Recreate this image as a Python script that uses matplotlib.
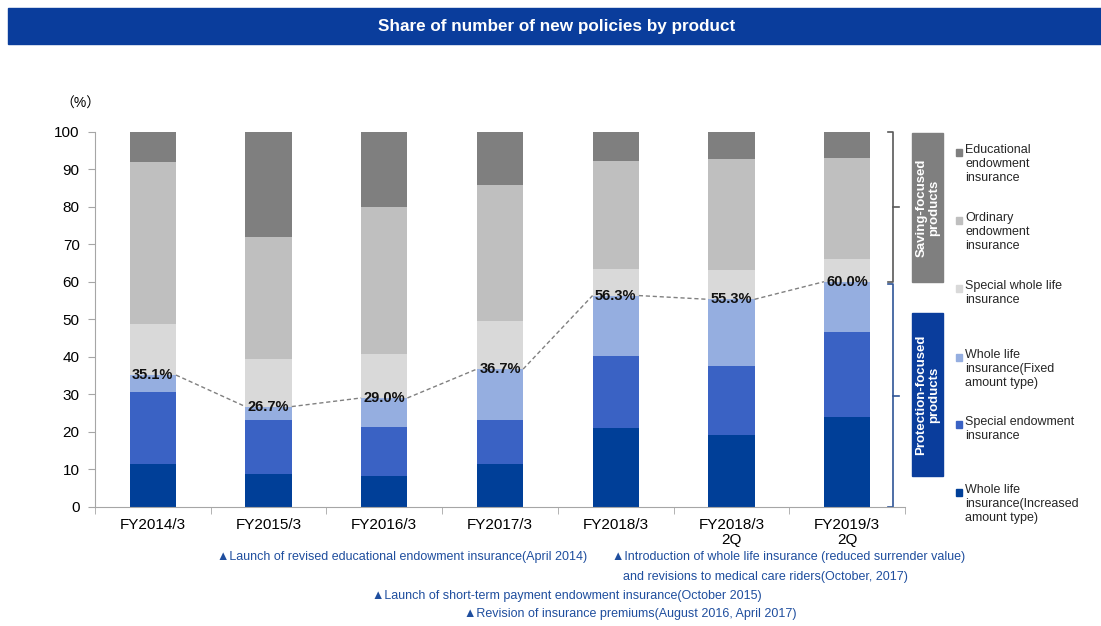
import numpy as np
import matplotlib
matplotlib.use("Agg")
import matplotlib.pyplot as plt
from matplotlib.patches import Rectangle
from matplotlib.transforms import blended_transform_factory

plt.rcParams['font.family'] = ['Liberation Sans', 'Noto Sans CJK JP', 'DejaVu Sans']

# =======================
# DATA (share of new policies, %)
# =======================
categories = ["FY2014/3", "FY2015/3", "FY2016/3", "FY2017/3", "FY2018/3",
              "FY2018/3\n2Q", "FY2019/3\n2Q"]

# stacked from the bottom up
whole_life_increased = [11.4, 8.7, 8.3, 11.4, 20.9, 19.1, 23.9]
special_endowment = [19.3, 14.4, 12.9, 11.7, 19.3, 18.4, 22.6]
whole_life_fixed = [4.4, 3.6, 7.8, 13.6, 16.1, 17.8, 13.5]
special_whole_life = [13.6, 12.6, 11.6, 12.9, 7.1, 7.8, 6.0]
ordinary_endowment = [43.3, 32.7, 39.4, 36.2, 28.8, 29.6, 26.9]
educational_endowment = [8.0, 28.0, 20.0, 14.2, 7.8, 7.3, 6.9]

series_names = [
    "Whole life\ninsurance(Increased\namount type)",
    "Special endowment\ninsurance",
    "Whole life\ninsurance(Fixed\namount type)",
    "Special whole life\ninsurance",
    "Ordinary\nendowment\ninsurance",
    "Educational\nendowment\ninsurance",
]
series_values = [whole_life_increased, special_endowment, whole_life_fixed,
                 special_whole_life, ordinary_endowment, educational_endowment]
series_colors = ["#003f98", "#3a62c4", "#95aee0", "#d9d9d9", "#bfbfbf", "#7f7f7f"]

footnotes = [
    "\u25b2Launch of revised educational endowment insurance(April 2014)",
    "\u25b2Introduction of whole life insurance (reduced surrender value)",
    "and revisions to medical care riders(October, 2017)",
    "\u25b2Launch of short-term payment endowment insurance(October 2015)",
    "\u25b2Revision of insurance premiums(August 2016, April 2017)",
]

# =======================
# FIGURE
# =======================
W, H = 1101, 626
fig = plt.figure(figsize=(W / 100, H / 100), dpi=100)


def fx(px):
    return px / W


def fy(py):
    return 1 - py / H


ax = fig.add_axes([fx(95), fy(506.7), 810 / W, 375 / H])

x = np.arange(len(categories))
bar_w = 0.4
bottom = np.zeros(len(categories))
for vals, col in zip(series_values, series_colors):
    ax.bar(x, vals, bar_w, bottom=bottom, color=col, zorder=2)
    bottom += np.array(vals)

# protection-focused share = first three series
protection = np.array(whole_life_increased) + np.array(special_endowment) + np.array(whole_life_fixed)
for i in range(len(x) - 1):
    ax.plot([x[i] + bar_w / 2, x[i + 1] - bar_w / 2], [protection[i], protection[i + 1]],
            ls=(0, (3, 2)), color="#808080", lw=1, zorder=3)
for xi, p in zip(x, protection):
    ax.text(xi, p, f"{p:.1f}%", ha="center", va="center", fontsize=10.5,
            fontweight="bold", color="#111111", zorder=4)

ax.set_xlim(-0.5, len(categories) - 0.5)
ax.set_ylim(0, 100)
ax.set_yticks(range(0, 101, 10))
ax.set_xticks(x)
ax.set_xticklabels(categories, fontsize=11, linespacing=1.15)
ax.set_xticks(np.arange(-0.5, len(categories)), minor=True)
ax.tick_params(axis="x", which="major", length=0, pad=8)
ax.tick_params(axis="x", which="minor", length=5, color="#a6a6a6")
ax.tick_params(axis="y", length=5, color="#a6a6a6", labelsize=11, pad=6)
for s in ["top", "right"]:
    ax.spines[s].set_visible(False)
for s in ["left", "bottom"]:
    ax.spines[s].set_color("#a6a6a6")
ax.text(fx(60), fy(104), "\uff08%\uff09", transform=fig.transFigure, fontsize=10,
        ha="left", va="center")

# braces on the right side
tr = blended_transform_factory(ax.transAxes, ax.transData)
bx = (893 - 95) / 810
hook = 5 / 810
for y0, y1, col in [(60, 100, "#595959"), (0, 59.3, "#2f5597")]:
    ym = (y0 + y1) / 2
    ax.plot([bx - hook, bx, bx, bx - hook], [y1, y1, y0, y0], color=col, lw=1.2,
            transform=tr, clip_on=False)
    ax.plot([bx, bx + 1.2 * hook], [ym, ym], color=col, lw=1.2, transform=tr, clip_on=False)

# group boxes
fig.add_artist(Rectangle((fx(912), fy(282)), fx(31), 149 / H, color="#7f7f7f",
                         transform=fig.transFigure))
fig.text(fx(927.5), fy(207.5), "Saving-focused\nproducts", rotation=90, color="white",
         fontsize=9.5, fontweight="bold", ha="center", va="center", linespacing=1.05)
fig.add_artist(Rectangle((fx(912), fy(476)), fx(31), 163 / H, color="#0a3d9c",
                         transform=fig.transFigure))
fig.text(fx(927.5), fy(394.5), "Protection-focused\nproducts", rotation=90, color="white",
         fontsize=9.5, fontweight="bold", ha="center", va="center", linespacing=1.05)

# legend, top entry first
legend_y = [152, 220, 288, 357, 424, 492]
for py, name, col in zip(legend_y, series_names[::-1], series_colors[::-1]):
    fig.add_artist(Rectangle((fx(955.5), fy(py + 3.5)), fx(6.5), 7 / H, color=col,
                             transform=fig.transFigure))
    fig.text(fx(965), fy(py - 8), name, fontsize=9, ha="left", va="top",
             color="#262626", linespacing=1.2)

# title banner
fig.add_artist(Rectangle((fx(8), fy(44)), 1, 36 / H, color="#0a3d9c",
                         transform=fig.transFigure))
fig.text(fx(557), fy(26), "Share of number of new policies by product", color="white",
         fontsize=12.3, fontweight="bold", ha="center", va="center")

# footnotes
note_pos = [(217, 557), (612, 557), (623, 577), (372, 596), (464, 614)]
for (px, py), note in zip(note_pos, footnotes):
    fig.text(fx(px), fy(py), note, fontsize=9, color="#1f4e9e", ha="left", va="center")

fig.savefig("out.png", dpi=100)
